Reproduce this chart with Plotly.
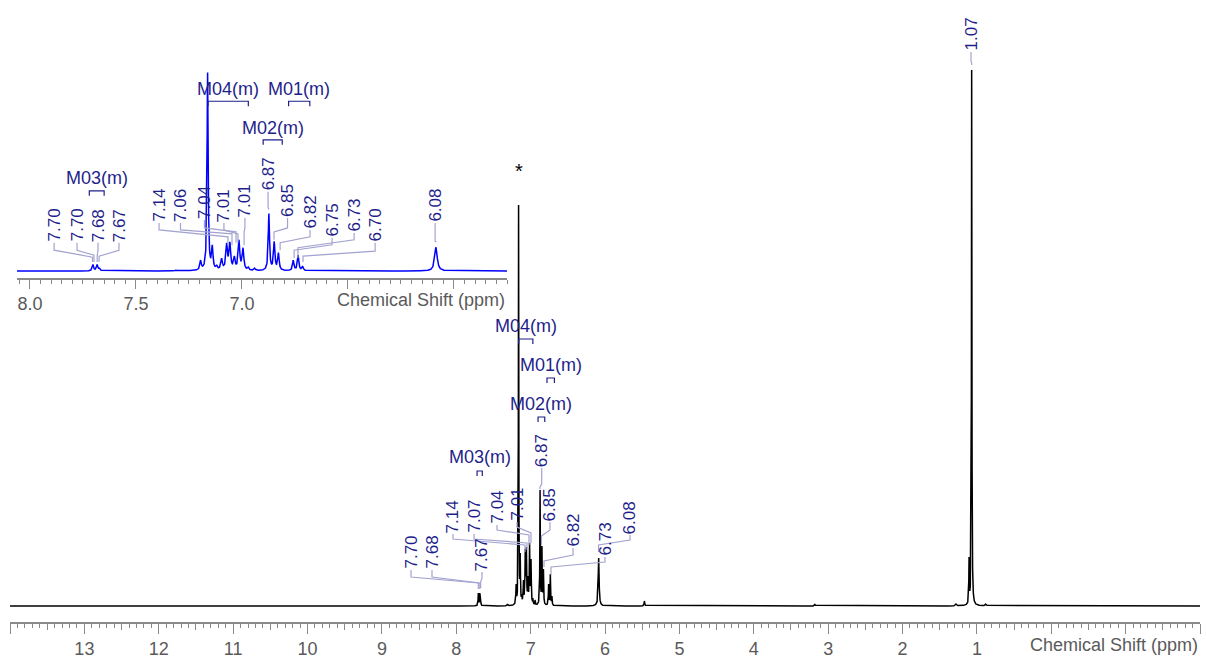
import numpy as np
import plotly.graph_objects as go

# ---------------- data ----------------
peak_ppm = [7.703, 7.683, 7.672, 7.31, 7.195, 7.162, 7.140, 7.119, 7.096, 7.072,
            7.057, 7.036, 7.014, 6.995, 6.970, 6.940, 6.873, 6.848, 6.828, 6.758,
            6.735, 6.714, 6.085, 5.47, 3.18, 1.28, 1.105, 1.070, 0.88]
peak_height = [13, 13, 6, 2, 22, 401, 53, 12, 26, 57,
               59, 30, 63, 47, 8, 6, 116, 60, 37, 22,
               32, 10, 48, 5, 2, 2, 49, 536, 2]
peak_fwhm = [0.008, 0.008, 0.008, 0.01, 0.008, 0.006, 0.008, 0.008, 0.009, 0.009,
             0.009, 0.009, 0.009, 0.009, 0.008, 0.008, 0.007, 0.008, 0.008, 0.008,
             0.008, 0.008, 0.014, 0.01, 0.01, 0.02, 0.007, 0.007, 0.02]

# peak labels of the main spectrum: text, ppm the connector points to
main_label_text = ["7.70", "7.68", "7.67", "7.14", "7.07", "7.04", "7.01",
                   "6.87", "6.85", "6.82", "6.73", "6.08", "1.07"]
main_label_target = [7.703, 7.683, 7.672, 7.076, 7.049, 7.022, 6.995,
                     6.874, 6.854, 6.820, 6.726, 6.087, 1.070]

# peak labels of the expanded (inset) spectrum
inset_label_text = ["7.70", "7.70", "7.68", "7.67", "7.14", "7.06", "7.04", "7.01",
                    "7.01", "6.87", "6.85", "6.82", "6.75", "6.73", "6.70", "6.08"]
inset_label_target = [7.705, 7.698, 7.683, 7.674, 7.066, 7.047, 7.028, 7.019,
                      6.990, 6.874, 6.849, 6.820, 6.754, 6.736, 6.712, 6.085]

# multiplet ranges
mult_name = ["M04(m)", "M01(m)", "M02(m)", "M03(m)"]
mult_from = [7.16, 6.78, 6.90, 7.72]
mult_to = [6.97, 6.68, 6.81, 7.65]

main_ticks = [13, 12, 11, 10, 9, 8, 7, 6, 5, 4, 3, 2, 1]
inset_ticks = ["8.0", "7.5", "7.0"]

# ---------------- layout of labels (positions, not data) ----------------
main_lab_x = [8.608, 8.326, 7.654, 8.044, 7.761, 7.452, 7.183, 6.851, 6.740, 6.430, 6.000, 5.664, 1.079]
main_lab_bot = [36, 36, 34, 72, 72, 81, 84, 138, 84, 58, 49, 71, 554]
main_lab_tick = [29, 29, 28, 67, 67, 76, 79, 122, 76, 51, 44, 66, 545]
main_lab_knee = [23, 23, 24, 61, 63, 71, 73, 119, 70, 45, 39, 61, 543]
main_lab_end = [17, 17, 18, 54, 56, 61, 63, 117, 61, 39, 31, 54, 541]

inset_lab_x = [7.886, 7.778, 7.679, 7.580, 7.391, 7.290, 7.177, 7.085, 6.986, 6.877,
               6.785, 6.679, 6.575, 6.471, 6.372, 6.089]
inset_lab_bot = [57, 57, 57, 57, 97, 97, 103, 97, 107, 160, 107, 83, 67, 77, 57, 97]
inset_lab_tick = [42, 42, 42, 42, 83, 83, 87, 83, 87, 128, 87, 69, 53, 63, 40, 60]
inset_lab_knee = [28, 32, 30, 30, 69, 75, 79, 75, 79, 126, 79, 57, 42, 47, 30, 59]
inset_lab_end = [18, 18, 18, 18, 52, 52, 57, 57, 52, 124, 63, 42, 26, 26, 18, 58]

main_mult_bar = [267, 228, 189, 135]
main_mult_text = [280, 241, 202, 149]
inset_mult_bar = [343, 343, 265, 162]
inset_mult_text = [368, 368, 289, 187]

NAVY = "#1f1f8c"
LINK = "#a3a3d0"
GRAY = "#5a5a5a"
AXC = "#8a8a8a"
FONT = "Liberation Sans, Arial, sans-serif"

# ---------------- spectrum from the peak list ----------------
ppm = np.unique(np.concatenate([np.arange(-2.0, 14.0, 0.0008), np.array(peak_ppm)]))
pp = np.array(peak_ppm)
hh = np.array(peak_height, dtype=float)
gg = np.array(peak_fwhm) / 2.0


def lor(x, c, g):
    return 1.0 / (1.0 + ((x - c) / g) ** 2)


A = lor(pp[:, None], pp[None, :], gg[None, :])
amp = np.clip(np.linalg.solve(A, hh), 0, None)
spec = (amp[None, :] * lor(ppm[:, None], pp[None, :], gg[None, :])).sum(axis=1)

m = (ppm > 5.70) & (ppm < 8.10)

fig = go.Figure()
fig.add_trace(go.Scatter(x=ppm, y=spec, mode="lines", line=dict(color="black", width=1.5),
                         hoverinfo="skip", showlegend=False, xaxis="x", yaxis="y"))
fig.add_trace(go.Scatter(x=ppm[m], y=spec[m], mode="lines", line=dict(color="#0000ff", width=1.5),
                         hoverinfo="skip", showlegend=False, xaxis="x2", yaxis="y2"))
fig.add_trace(go.Scatter(x=[0], y=[0], mode="markers", marker=dict(opacity=0),
                         hoverinfo="skip", showlegend=False, xaxis="x3", yaxis="y"))

shapes = []
annotations = []


def add_labels(texts, targets, lx, bot, tick, knee, end, xref, yref):
    for t, tg, x, b, tk, kn, en in zip(texts, targets, lx, bot, tick, knee, end):
        annotations.append(dict(x=x, y=b, xref=xref, yref=yref, text=t, showarrow=False,
                                textangle=-90, xanchor="center", yanchor="bottom",
                                font=dict(family=FONT, size=17, color=NAVY), borderpad=0))
        path = f"M {x} {b} L {x} {tk} L {tg} {kn} L {tg} {en}"
        shapes.append(dict(type="path", path=path, xref=xref, yref=yref,
                           line=dict(color=LINK, width=1.2)))


add_labels(main_label_text, main_label_target, main_lab_x, main_lab_bot, main_lab_tick,
           main_lab_knee, main_lab_end, "x", "y")
add_labels(inset_label_text, inset_label_target, inset_lab_x, inset_lab_bot, inset_lab_tick,
           inset_lab_knee, inset_lab_end, "x2", "y2")


def add_mult(bar, txt, xref, yref, leg):
    for n, a, b, yb, yt in zip(mult_name, mult_from, mult_to, bar, txt):
        path = f"M {a} {yb - leg} L {a} {yb} L {b} {yb} L {b} {yb - leg}"
        shapes.append(dict(type="path", path=path, xref=xref, yref=yref,
                           line=dict(color=NAVY, width=1.2)))
        annotations.append(dict(x=(a + b) / 2, y=yt, xref=xref, yref=yref, text=n,
                                showarrow=False, xanchor="center", yanchor="middle",
                                font=dict(family=FONT, size=18, color=NAVY)))


add_mult(main_mult_bar, main_mult_text, "x", "y", 5)
add_mult(inset_mult_bar, inset_mult_text, "x2", "y2", 10)

# solvent marker
annotations.append(dict(x=peak_ppm[5], y=peak_height[5] + 34, xref="x", yref="y", text="*",
                        showarrow=False, xanchor="center", yanchor="middle",
                        font=dict(family=FONT, size=20, color="black")))

# axis titles
annotations.append(dict(x=1.0, y=-0.037, xref="paper", yref="paper", text="Chemical Shift (ppm)",
                        showarrow=False, xanchor="right", yanchor="middle",
                        font=dict(family=FONT, size=18, color=GRAY)))
annotations.append(dict(x=0.4176, y=0.517, xref="paper", yref="paper", text="Chemical Shift (ppm)",
                        showarrow=False, xanchor="right", yanchor="middle",
                        font=dict(family=FONT, size=18, color=GRAY)))

main_tickvals = list(range(-2, 15))
main_ticktext = [str(v) if v in main_ticks else "" for v in main_tickvals]
half_vals = [v + 0.5 for v in range(-2, 14)]

inset_tickvals = [8.0, 7.5, 7.0, 6.5, 6.0]
inset_ticktext = inset_ticks + ["", ""]

fig.update_layout(
    width=1206, height=658,
    margin=dict(l=10, r=6, t=0, b=36),
    paper_bgcolor="white", plot_bgcolor="rgba(0,0,0,0)",
    showlegend=False,
    font=dict(family=FONT),
    xaxis=dict(domain=[0, 1], range=[14, -2], anchor="y", showgrid=False, zeroline=False,
               showline=True, linecolor=AXC, linewidth=1.5,
               tickmode="array", tickvals=main_tickvals, ticktext=main_ticktext,
               ticks="outside", ticklen=10, tickcolor=AXC, tickwidth=1,
               tickfont=dict(family=FONT, size=18, color=GRAY),
               minor=dict(tickmode="linear", tick0=0, dtick=0.1, ticks="outside",
                          ticklen=4, tickcolor=AXC, tickwidth=1)),
    xaxis3=dict(overlaying="x", range=[14, -2], anchor="y", showgrid=False, zeroline=False,
                showline=False, tickmode="array", tickvals=half_vals, ticks="outside",
                ticklen=7, tickcolor=AXC, tickwidth=1, showticklabels=False),
    yaxis=dict(domain=[0, 1], range=[-16, 606], visible=False, fixedrange=True),
    xaxis2=dict(domain=[0.00588, 0.41765], range=[8.061, 5.75], anchor="y2", showgrid=False,
                zeroline=False, showline=True, linecolor=AXC, linewidth=1.5,
                tickmode="array", tickvals=inset_tickvals, ticktext=inset_ticktext,
                ticks="outside", ticklen=9, tickcolor=AXC, tickwidth=1,
                tickfont=dict(family=FONT, size=18, color=GRAY),
                minor=dict(tickmode="linear", tick0=0, dtick=0.05, ticks="outside",
                           ticklen=4, tickcolor=AXC, tickwidth=1)),
    yaxis2=dict(domain=[0.5531, 0.9035], range=[-14.1, 426.3], visible=False, anchor="x2"),
    shapes=shapes,
    annotations=annotations,
)

fig.write_html("out.html", config={"displayModeBar": False},
               post_script="document.body.style.margin='0';document.body.style.overflow='hidden';")
